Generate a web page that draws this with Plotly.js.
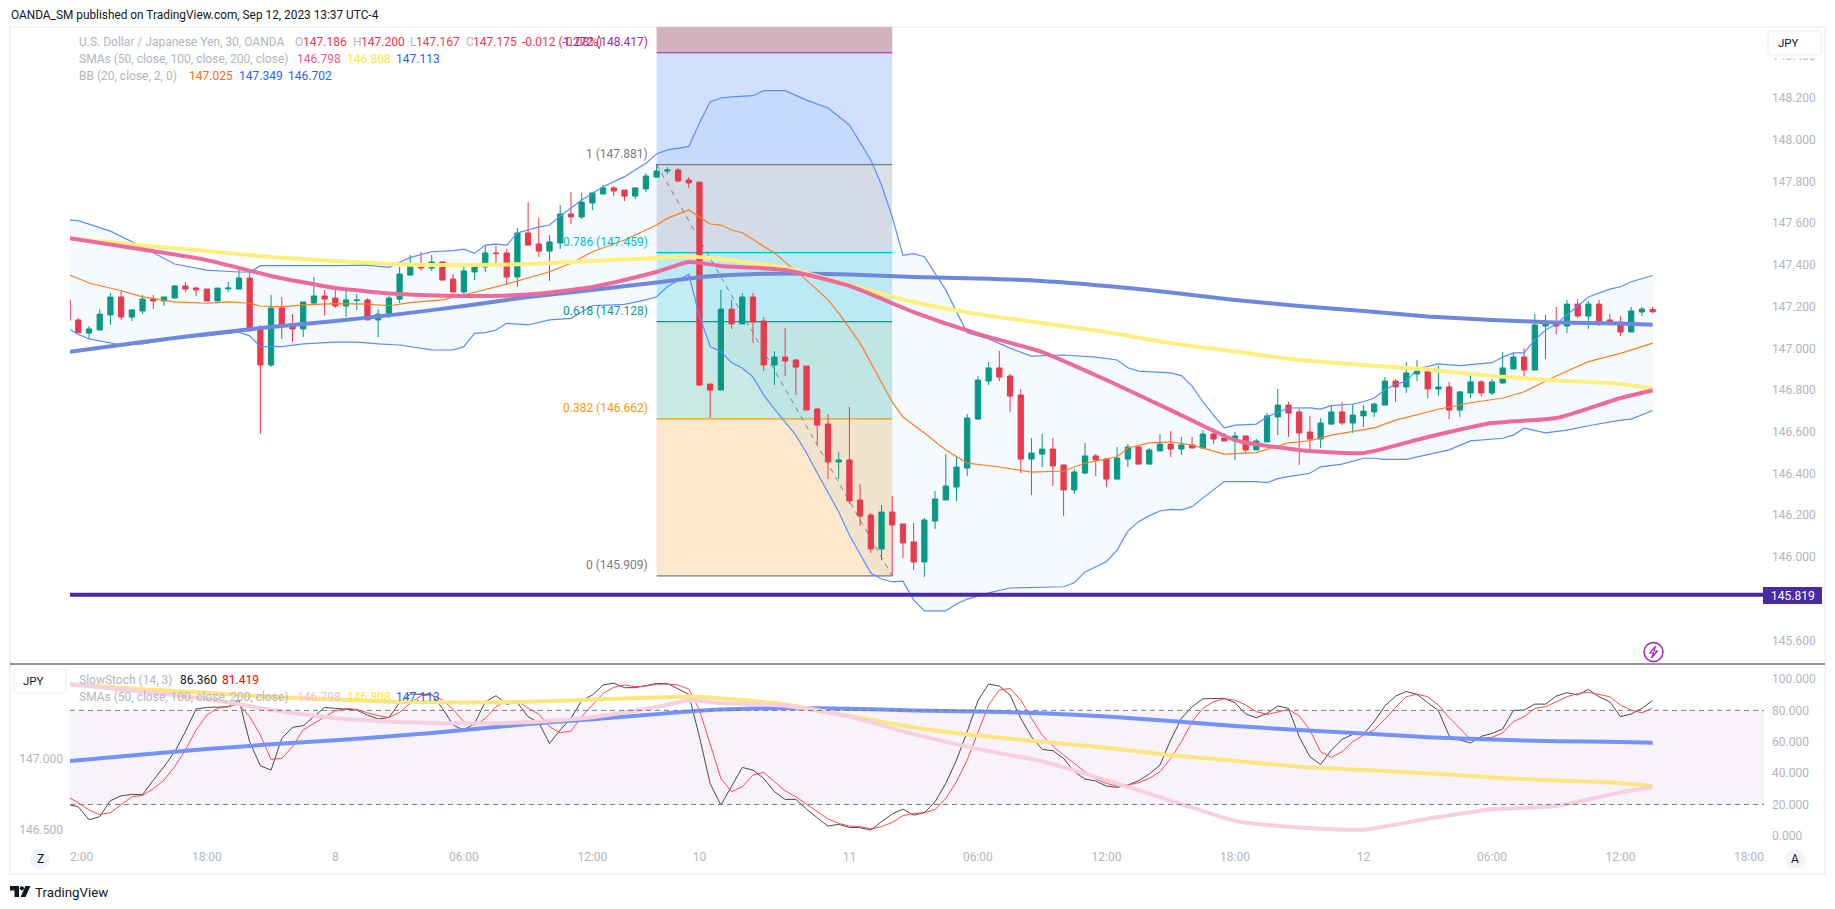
<!DOCTYPE html>
<html><head><meta charset="utf-8">
<script src="https://cdn.plot.ly/plotly-3.0.1.min.js"></script>
<style>html,body{margin:0;padding:0;background:#fff;overflow:hidden}#c{width:1835px;height:909px}</style>
</head><body><div id="c"></div>
<script>
// ---------- Bars: index 0 = 7 Sep 12:00, 30-minute bars (first bar is index -1) ----------
const opens = [147.232,147.136,147.073,147.088,147.160,147.246,147.150,147.179,147.236,147.227,
147.241,147.299,147.289,147.284,147.227,147.285,147.284,147.337,147.097,146.920,
147.193,147.117,147.093,147.217,147.251,147.241,147.203,147.229,147.232,147.136,
147.160,147.236,147.351,147.399,147.385,147.414,147.332,147.270,147.366,147.390,
147.457,147.457,147.342,147.553,147.500,147.466,147.505,147.644,147.630,147.697,
147.740,147.769,147.759,147.730,147.764,147.821,147.850,147.855,147.807,147.797,
146.829,146.800,147.188,147.117,147.246,147.131,146.920,146.958,146.944,146.915,
146.709,146.637,146.455,146.465,146.273,146.201,146.038,146.215,146.158,146.072,
145.976,146.172,146.273,146.335,146.426,146.661,146.843,146.906,146.867,146.776,
146.469,146.493,146.517,146.441,146.321,146.402,146.484,146.469,146.373,146.469,
146.527,146.445,146.508,146.541,146.517,146.537,146.522,146.589,146.570,146.556,
146.580,146.513,146.551,146.671,146.728,146.695,146.599,146.565,146.637,146.695,
146.642,146.676,146.695,146.728,146.843,146.815,146.877,146.891,146.805,146.815,
146.704,146.786,146.839,146.786,146.834,146.901,146.958,146.896,147.107,147.121,
147.107,147.212,147.155,147.212,147.136,147.126,147.078,147.174,147.186];
const highs = [147.240,147.144,147.107,147.188,147.265,147.276,147.188,147.256,147.256,147.246,
147.303,147.318,147.294,147.284,147.289,147.318,147.385,147.371,147.112,147.256,
147.246,147.164,147.222,147.342,147.280,147.294,147.275,147.260,147.241,147.188,
147.251,147.390,147.447,147.462,147.447,147.414,147.356,147.390,147.399,147.495,
147.490,147.476,147.577,147.701,147.625,147.543,147.687,147.749,147.745,147.749,
147.783,147.778,147.759,147.769,147.841,147.884,147.869,147.864,147.821,147.797,
146.829,147.280,147.232,147.265,147.265,147.150,146.987,147.097,146.949,146.915,
146.714,146.685,146.503,146.719,146.349,146.210,146.249,146.292,146.158,146.163,
146.187,146.316,146.493,146.479,146.685,146.867,146.934,146.987,146.877,146.805,
146.570,146.589,146.570,146.441,146.421,146.546,146.493,146.474,146.527,146.541,
146.537,146.522,146.589,146.604,146.575,146.575,146.608,146.618,146.594,146.599,
146.580,146.565,146.690,146.805,146.743,146.709,146.676,146.666,146.723,146.743,
146.733,146.728,146.738,146.863,146.853,146.934,146.944,146.891,146.915,146.839,
146.795,146.872,146.848,146.853,146.982,146.978,147.001,147.165,147.160,147.198,
147.232,147.236,147.227,147.232,147.165,147.155,147.198,147.198,147.200];
const lows = [147.133,147.075,147.045,147.088,147.112,147.136,147.131,147.164,147.188,147.203,
147.241,147.270,147.251,147.227,147.227,147.270,147.284,147.078,146.589,146.910,
147.045,147.030,147.054,147.208,147.155,147.193,147.150,147.184,147.136,147.054,
147.145,147.217,147.351,147.371,147.371,147.327,147.270,147.246,147.327,147.366,
147.409,147.304,147.294,147.495,147.438,147.323,147.476,147.596,147.620,147.663,
147.740,147.730,147.706,147.716,147.749,147.817,147.836,147.797,147.769,146.819,
146.666,146.800,147.093,147.117,147.025,146.891,146.824,146.867,146.776,146.704,
146.541,146.373,146.373,146.254,146.148,146.019,145.985,145.908,145.995,145.937,
145.904,146.134,146.273,146.268,146.388,146.656,146.824,146.843,146.695,146.402,
146.297,146.431,146.340,146.196,146.302,146.397,146.388,146.335,146.373,146.431,
146.445,146.445,146.508,146.479,146.489,146.522,146.522,146.541,146.556,146.465,
146.498,146.513,146.551,146.584,146.575,146.441,146.517,146.522,146.632,146.632,
146.594,146.623,146.671,146.728,146.743,146.786,146.843,146.762,146.771,146.661,
146.671,146.762,146.771,146.776,146.829,146.901,146.862,146.896,146.949,147.069,
147.073,147.145,147.093,147.107,147.112,147.059,147.078,147.155,147.167];
const closes = [147.133,147.075,147.093,147.164,147.246,147.150,147.184,147.236,147.227,147.246,
147.299,147.284,147.280,147.227,147.289,147.289,147.337,147.093,146.920,147.193,
147.112,147.093,147.222,147.251,147.236,147.203,147.232,147.232,147.136,147.164,
147.241,147.356,147.399,147.385,147.414,147.327,147.270,147.371,147.395,147.457,
147.454,147.342,147.553,147.495,147.466,147.510,147.644,147.630,147.701,147.745,
147.769,147.754,147.730,147.769,147.826,147.850,147.855,147.802,147.793,146.824,
146.800,147.188,147.117,147.246,147.126,146.920,146.958,146.939,146.910,146.704,
146.632,146.455,146.465,146.268,146.196,146.038,146.215,146.153,146.067,145.976,
146.177,146.278,146.340,146.431,146.666,146.848,146.906,146.862,146.771,146.469,
146.498,146.517,146.436,146.321,146.407,146.484,146.465,146.373,146.474,146.527,
146.445,146.513,146.541,146.517,146.537,146.522,146.589,146.565,146.556,146.580,
146.513,146.556,146.676,146.728,146.690,146.594,146.565,146.642,146.695,146.642,
146.680,146.699,146.733,146.843,146.815,146.882,146.891,146.805,146.815,146.704,
146.791,146.839,146.786,146.839,146.906,146.958,146.896,147.112,147.120,147.107,
147.212,147.155,147.212,147.131,147.121,147.078,147.179,147.188,147.175];

// ---------- Moving averages, read at these bar indices ----------
const smaBars = [-1,6,12,18,24,30,36,42,48,54,57,60,66,72,78,84,90,96,102,108,114,120,126,132,138,144,147];
const sma50  = [147.529,147.474,147.423,147.347,147.289,147.260,147.251,147.258,147.294,147.366,147.414,147.395,147.375,147.299,147.174,147.069,146.982,146.848,146.704,146.560,146.513,146.498,146.575,146.642,146.666,146.762,146.798];
const sma100 = [147.529,147.493,147.467,147.438,147.419,147.402,147.399,147.404,147.419,147.433,147.440,147.428,147.385,147.304,147.222,147.164,147.121,147.078,147.025,146.985,146.944,146.920,146.898,146.867,146.846,146.829,146.808];
const sma200 = [146.982,147.030,147.069,147.102,147.131,147.164,147.203,147.246,147.280,147.316,147.335,147.349,147.359,147.354,147.342,147.335,147.323,147.299,147.268,147.232,147.203,147.179,147.153,147.136,147.124,147.119,147.113];

// ---------- Bollinger bands ----------
const bbUpperBars = [-1,0,3,6,9,12,15,16,17,18,21,24,27,29,31,33,35,36,37,38,39,40,41,42,43,44,45,47,49,51,53,54,55,57,58,59,60,61,63,64,66,68,70,72,74,75,76,77,78,79,80,81,82,83,85,87,89,92,95,97,98,99,102,103,104,105,106,107,108,110,111,113,115,116,117,119,120,121,122,123,124,125,127,129,132,133,134,135,136,137,138,139,141,143,144,145,147];
const bbUpper = [147.615,147.612,147.562,147.486,147.404,147.375,147.366,147.366,147.396,147.396,147.393,147.396,147.399,147.388,147.436,147.463,147.468,147.475,147.455,147.495,147.500,147.495,147.553,147.567,147.582,147.591,147.634,147.711,147.775,147.823,147.887,147.932,147.951,147.967,148.080,148.182,148.200,148.205,148.211,148.235,148.235,148.190,148.152,148.071,147.903,147.783,147.630,147.446,147.454,147.439,147.360,147.280,147.176,147.075,147.045,147.001,146.963,146.968,146.958,146.944,146.907,146.891,146.882,146.869,146.819,146.744,146.680,146.619,146.632,146.637,146.672,146.714,146.715,146.709,146.725,146.733,146.744,146.762,146.800,146.829,146.840,146.901,146.925,146.917,146.931,146.958,146.978,146.978,147.040,147.088,147.117,147.160,147.246,147.284,147.295,147.319,147.349];
const bbLowerBars = [-1,0,1,4,6,9,12,15,16,17,19,21,24,26,28,30,33,35,36,37,38,39,40,42,44,45,46,48,51,53,54,55,56,57,58,59,60,61,62,63,64,65,67,68,69,70,71,72,73,74,75,76,77,78,79,81,82,83,85,87,92,93,94,96,97,98,99,100,101,102,103,104,105,106,107,108,110,111,112,113,115,116,118,120,121,122,124,128,130,133,134,135,137,139,141,144,145,147];
const bbLower = [147.096,147.067,147.045,147.016,147.021,147.048,147.059,147.077,147.060,147.008,147.008,147.021,147.030,147.030,147.021,147.016,146.993,146.992,147.008,147.072,147.075,147.088,147.120,147.112,147.136,147.141,147.144,147.204,147.211,147.232,147.247,147.295,147.327,147.355,147.155,147.009,146.984,146.931,146.906,146.862,146.776,146.709,146.584,146.498,146.402,146.306,146.215,146.105,146.014,145.923,145.894,145.880,145.884,145.793,145.741,145.741,145.774,145.798,145.828,145.851,145.857,145.876,145.928,145.977,146.033,146.124,146.169,146.198,146.220,146.228,146.226,146.241,146.282,146.321,146.361,146.361,146.361,146.356,146.375,146.385,146.401,146.432,146.445,146.473,146.473,146.468,146.468,146.513,146.556,146.569,146.584,146.617,146.595,146.608,146.629,146.656,146.661,146.702];
const bbBasisBars = [-1,1,4,6,9,12,14,16,17,19,21,24,27,29,31,34,37,40,44,46,48,51,54,55,57,58,59,60,61,62,65,68,70,71,73,76,77,79,81,83,86,89,92,94,96,97,98,100,102,104,107,110,113,115,117,121,123,127,130,133,135,138,141,144,147];
const bbBasis = [147.356,147.313,147.276,147.247,147.223,147.216,147.223,147.216,147.203,147.199,147.208,147.214,147.212,147.204,147.219,147.232,147.269,147.308,147.367,147.408,147.463,147.519,147.591,147.623,147.663,147.628,147.596,147.591,147.567,147.554,147.457,147.327,147.232,147.169,147.025,146.743,146.671,146.594,146.513,146.450,146.431,146.407,146.412,146.450,146.469,146.480,146.522,146.547,146.552,146.536,146.493,146.500,146.547,146.557,146.584,146.619,146.656,146.708,146.739,146.762,146.792,146.867,146.936,146.976,147.025];

// ---------- Slow stochastic (one value per bar) ----------
const stochK = [20.0,18.5,10.2,12.2,22.4,25.5,26.4,26.2,35.5,44.1,
53.6,66.4,80.9,81.9,82.1,82.3,86.6,60.0,44.7,41.9,
62.1,69.2,70.2,76.0,81.9,81.3,80.6,80.2,77.0,74.5,
75.5,84.9,90.4,90.4,90.2,81.3,70.6,67.5,71.7,85.5,
89.4,84.0,84.9,76.0,72.1,58.9,67.5,74.9,86.2,89.8,
96.2,97.4,94.5,94.5,95.7,97.2,97.2,93.6,90.2,63.2,
33.4,19.6,31.7,43.6,41.9,36.6,28.1,23.2,23.2,17.0,
11.5,6.2,7.3,5.3,5.1,3.6,9.0,13.9,17.0,13.2,
14.7,21.7,33.4,48.3,66.4,86.2,96.8,95.5,89.8,74.9,
63.2,55.1,54.3,49.4,40.9,36.2,34.9,31.7,30.9,32.4,
35.1,39.4,45.1,61.1,74.9,82.3,87.4,87.7,87.7,84.9,
77.7,75.3,78.1,82.8,81.3,63.2,50.4,45.5,54.7,61.5,
64.7,64.7,72.8,82.8,89.1,92.1,90.2,84.9,79.8,63.8,
61.1,59.2,63.4,65.3,68.1,80.0,80.2,84.0,84.0,89.1,
91.3,89.8,93.4,88.7,85.5,76.0,77.7,81.3,86.36];
const stochD = [24.9,21.1,16.4,13.6,14.7,20.0,24.9,25.8,30.0,35.5,
44.1,54.7,67.5,77.0,81.3,82.3,84.0,76.0,64.3,48.7,
49.4,56.8,67.5,71.7,76.0,79.8,81.3,80.6,78.5,76.6,
75.5,78.7,84.5,89.4,89.8,86.6,80.6,72.8,70.4,74.9,
82.3,86.2,86.2,81.3,77.7,69.6,65.7,66.8,76.0,83.4,
90.8,94.7,96.2,95.1,95.5,96.6,96.8,96.2,93.6,80.2,
58.9,36.6,28.1,31.3,38.7,40.4,34.5,28.7,24.9,20.2,
15.3,10.7,7.9,6.2,5.8,4.5,5.8,8.5,12.8,14.3,
14.7,16.8,23.8,34.5,48.3,65.3,83.4,93.0,94.0,86.6,
74.9,64.3,57.2,51.5,46.2,40.9,36.2,33.4,31.7,32.4,
33.8,36.6,40.9,49.4,60.0,72.8,81.3,85.5,87.4,86.6,
83.4,79.2,77.4,79.2,80.6,76.6,67.5,53.6,50.0,53.6,
60.0,64.3,67.5,74.3,81.9,88.7,90.4,88.7,83.4,75.5,
68.5,61.5,62.1,62.8,65.7,72.8,76.0,81.3,82.3,85.5,
88.7,90.8,91.5,90.2,88.7,83.4,80.2,78.5,81.419];

// ---------- Fibonacci retracement ----------
const fibRatios = ['0','0.382','0.618','0.786','1','1.272'];
const fibPrices = [145.909,146.662,147.128,147.459,147.881,148.417];
const fibLineColors = ['#787b86','#ff9800','#089981','#00bcd4','#787b86','#9c27b0'];
const fibZoneColors = ['#fde8cb','#c9e9e5','#c3eef5','#dcdfe6','#cfdffc','#d2b3bd'];
const fibStartBar = 54, fibEndBar = 76;
const supportLevel = 145.819;

// ---------- Axis ticks ----------
const priceTicks = [145.6,146.0,146.2,146.4,146.6,146.8,147.0,147.2,147.4,147.6,147.8,148.0,148.2,148.4];
const stochTicks = [0,20,40,60,80,100];
const lowerPriceTicks = [146.5,147.0];
const timeTickBars = [0,12,24,36,48,58,72,84,96,108,120,132,144,156];
const timeTickText = ['12:00','18:00','8','06:00','12:00','10','11','06:00','12:00','18:00','12','06:00','12:00','18:00'];

const W=1835,H=909, PL=70, PR=1764, MT=27, MB=664, LB=848;
const FONT='Roboto, "Noto Sans", sans-serif';
const px=x=>x/W, py=y=>1-y/H;
const barIndex=opens.map((_,i)=>i-1);
const pathPx=(cmds)=>cmds.map(c=>typeof c==='string'?c:(px(c[0])+' '+py(c[1]))).join(' ');
function rr(x0,y0,x1,y1,r){return pathPx(['M',[x0+r,y0],'L',[x1-r,y0],'Q',[x1,y0],[x1,y0+r],'L',[x1,y1-r],'Q',[x1,y1],[x1-r,y1],'L',[x0+r,y1],'Q',[x0,y1],[x0,y1-r],'L',[x0,y0+r],'Q',[x0,y0],[x0+r,y0],'Z']);}

const mainLine=(x,y,color,w,yax,extra)=>Object.assign({type:'scatter',mode:'lines',x,y,xaxis:'x',yaxis:yax,hoverinfo:'skip',showlegend:false,line:{color,width:w}},extra||{});
const smooth=(x,y,color,w,yax)=>{const t=mainLine(x,y,color,w,yax);t.line.shape='spline';t.line.smoothing=0.55;return t;};

const traces=[
 mainLine(bbUpperBars,bbUpper,'#5b8cff',1.2,'y'),
 mainLine(bbLowerBars,bbLower,'#5b8cff',1.2,'y',{fill:'tonexty',fillcolor:'rgba(33,150,243,0.05)'}),
 mainLine(bbBasisBars,bbBasis,'#ff7d1f',1.2,'y'),
 smooth(smaBars,sma200,'#6f88de',4,'y'),
 smooth(smaBars,sma100,'#fff07e',4,'y'),
 smooth(smaBars,sma50,'#ee6a9b',4,'y'),
 {type:'candlestick',x:barIndex,open:opens,high:highs,low:lows,close:closes,xaxis:'x',yaxis:'y',hoverinfo:'skip',showlegend:false,
  whiskerwidth:0,
  increasing:{line:{color:'#089981',width:1},fillcolor:'#089981'},
  decreasing:{line:{color:'#f23645',width:1},fillcolor:'#f23645'}},
 smooth(smaBars,sma200,'#7393fb',4,'y3'),
 smooth(smaBars,sma100,'#fde67f',4,'y3'),
 smooth(smaBars,sma50,'#f7cfdf',4,'y3'),
 mainLine(barIndex,stochK,'#4a4a4a',1,'y2'),
 mainLine(barIndex,stochD,'#ff4a4a',1,'y2')
];

const shapes=[];
// Frame
shapes.push({type:'rect',xref:'paper',yref:'paper',x0:px(10),x1:px(1825),y0:py(27),y1:py(874),line:{color:'#f0f3fa',width:2},layer:'below'});
// Fibonacci zones
const fibTop=[fibPrices[1],fibPrices[2],fibPrices[3],fibPrices[4],fibPrices[5],148.5404];
fibPrices.forEach((p,i)=>{
 shapes.push({type:'rect',xref:'x',yref:'y',x0:fibStartBar,x1:fibEndBar,y0:p,y1:fibTop[i],fillcolor:fibZoneColors[i],line:{width:0},layer:'below'});
});
fibPrices.forEach((p,i)=>{
 shapes.push({type:'line',xref:'x',yref:'y',x0:fibStartBar,x1:fibEndBar,y0:p,y1:p,line:{color:fibLineColors[i],width:1.2},layer:'below'});
});
// Fibonacci trend line
shapes.push({type:'line',xref:'x',yref:'y',x0:fibStartBar,x1:fibEndBar,y0:fibPrices[4],y1:fibPrices[0],line:{color:'#787b86',width:1,dash:'5px,5px'},layer:'above'});
// Support line
shapes.push({type:'line',xref:'paper',yref:'y',x0:px(PL),x1:px(PR),y0:supportLevel,y1:supportLevel,line:{color:'#4b2ba3',width:4},layer:'above'});
// Support price tag
shapes.push({type:'rect',xref:'paper',yref:'paper',x0:px(1763),x1:px(1822),y0:py(604),y1:py(587),fillcolor:'#4b2ba3',line:{width:0},layer:'above'});
// Stochastic band
shapes.push({type:'rect',xref:'paper',yref:'y2',x0:px(PL),x1:px(PR),y0:20,y1:80,fillcolor:'#f8f2fa',line:{width:0},layer:'below'});
[20,80].forEach(v=>shapes.push({type:'line',xref:'paper',yref:'y2',x0:px(PL),x1:px(PR),y0:v,y1:v,line:{color:'#787b86',width:1,dash:'5px,4px'},layer:'above'}));
// Separator
shapes.push({type:'line',xref:'paper',yref:'paper',x0:px(10),x1:px(1825),y0:py(664),y1:py(664),line:{color:'#2a2e39',width:1},layer:'above'});
// Cover that clips the first time label at the pane's left edge
shapes.push({type:'rect',xref:'paper',yref:'paper',x0:px(50),x1:px(PL),y0:py(849),y1:py(872),fillcolor:'#ffffff',line:{width:0},layer:'above'});
// Margin under the scale button, which clips the top price label
shapes.push({type:'rect',xref:'paper',yref:'paper',x0:px(1766),x1:px(1823),y0:py(58.3),y1:py(48),fillcolor:'#ffffff',line:{width:0},layer:'above'});
// Buttons
shapes.push({type:'path',xref:'paper',yref:'paper',path:rr(1768,31,1821,55,4),fillcolor:'#ffffff',line:{color:'#f0f3fa',width:1.5},layer:'above'});
shapes.push({type:'path',xref:'paper',yref:'paper',path:rr(14,669,66,693,4),fillcolor:'#ffffff',line:{color:'#f0f3fa',width:1.5},layer:'above'});
[[40,859],[1795,859]].forEach(c=>shapes.push({type:'circle',xref:'paper',yref:'paper',x0:px(c[0]-10),x1:px(c[0]+10),y0:py(c[1]+10),y1:py(c[1]-10),fillcolor:'#f0f3fa',line:{width:0},layer:'above'}));
// Lightning marker
shapes.push({type:'circle',xref:'paper',yref:'paper',x0:px(1644),x1:px(1663),y0:py(661.5),y1:py(642.5),fillcolor:'#ffffff',line:{color:'#9c27b0',width:1.5},layer:'above'});
shapes.push({type:'path',xref:'paper',yref:'paper',path:pathPx(['M',[1655.5,646],'L',[1650,653],'L',[1653.5,653],'L',[1651.5,658],'L',[1657.5,651],'L',[1654,651],'Z']),fillcolor:'#ffffff',line:{color:'#9c27b0',width:1.2},layer:'above'});
// TradingView mark
shapes.push({type:'path',xref:'paper',yref:'paper',path:pathPx(['M',[10,886],'L',[19,886],'L',[19,897],'L',[14.5,897],'L',[14.5,890.5],'L',[10,890.5],'Z']),fillcolor:'#131722',line:{width:0},layer:'above'});
shapes.push({type:'circle',xref:'paper',yref:'paper',x0:px(19.8),x1:px(24),y0:py(890.4),y1:py(886.2),fillcolor:'#131722',line:{width:0},layer:'above'});
shapes.push({type:'path',xref:'paper',yref:'paper',path:pathPx(['M',[25.5,886],'L',[30.5,886],'L',[25.5,897],'L',[20.5,897],'Z']),fillcolor:'#131722',line:{width:0},layer:'above'});

const GR='#b2b5be';
const note=(text,x,y,color,size,anchor,extra)=>Object.assign({text,xref:'paper',yref:'paper',x:px(x),y:py(y),xanchor:anchor||'left',yanchor:'middle',showarrow:false,borderpad:0,font:{family:FONT,size:size||12,color}},extra||{});
const annotations=[
 note('OANDA_SM published on TradingView.com, Sep 12, 2023 13:37 UTC-4',10,15,'#131722',11.85),
 // Row 1
 note('U.S. Dollar / Japanese Yen, 30, OANDA',77.5,42,GR,12),
 note('O',294,42,GR),note('147.186',302,42,'#f23645'),
 note('H',352,42,GR),note('147.200',360,42,'#f23645'),
 note('L',409,42,GR),note('147.167',415,42,'#f23645'),
 note('C',465,42,GR),note('147.175',472,42,'#f23645'),
 note('-0.012 (-0.08%)',521,42,'#f23645'),
 note('1.272 (148.417)',648.5,42,'#9c27b0',12,'right'),
 // Row 2
 note('SMAs (50, close, 100, close, 200, close)',77.5,59,GR),
 note('146.798',296,59,'#f0588f'),note('146.808',346,59,'#ffe83b'),note('147.113',395,59,'#2962ff'),
 // Row 3
 note('BB (20, close, 2, 0)',77.5,76,GR),
 note('147.025',188,76,'#ff6d00'),note('147.349',238,76,'#2962ff'),note('146.702',287,76,'#2962ff'),
 // Lower pane legend
 note('SlowStoch (14, 3)',78,680,GR),note('86.360',178.5,680,'#131722'),note('81.419',221,680,'#ff0000'),
 note('SMAs (50, close, 100, close, 200, close)',78,697,GR),
 note('146.798',296,697,'#f8bcd3'),note('146.808',346,697,'#ffe83b'),note('147.113',395,697,'#2962ff'),
 // Buttons
 note('JPY',1777,43,'#131722',11.5),note('JPY',22,681,'#131722',11.5),
 note('Z',40,859,'#131722',12,'center'),note('A',1795,859,'#131722',12,'center'),
 note('TradingView',33.5,892,'#131722',13.3),
 // Support label
 note(supportLevel.toFixed(3),1792.5,595.5,'#ffffff',12,'center')
];
// Fibonacci labels
fibPrices.forEach((p,i)=>{
 if(i===5) return;
 annotations.push({text:fibRatios[i]+' ('+p.toFixed(3)+')',xref:'paper',yref:'y',x:px(648.5),y:p,yshift:11,xanchor:'right',yanchor:'middle',showarrow:false,borderpad:0,font:{family:FONT,size:12,color:fibLineColors[i]}});
});

const yrange=[145.4867,148.5404];
const stochRange=[-7.8,109.6];
const lowerPriceRange=[146.368,147.671];
const tickFont={family:FONT,size:12,color:GR};
const layout={
 width:W,height:H,margin:{l:0,r:0,t:0,b:0,pad:0},paper_bgcolor:'#ffffff',plot_bgcolor:'rgba(0,0,0,0)',showlegend:false,
 font:{family:FONT},hovermode:false,dragmode:false,boxgap:0.3,
 xaxis:{domain:[px(PL),px(PR)],range:[-0.775,157.4],anchor:'y2',type:'linear',showgrid:false,zeroline:false,showline:false,ticks:'',
   tickmode:'array',tickvals:timeTickBars,ticktext:timeTickText,tickfont:tickFont,rangeslider:{visible:false},fixedrange:true},
 yaxis:{domain:[py(MB),py(MT)],range:yrange,anchor:'x',side:'right',position:px(PR),showgrid:false,zeroline:false,showline:false,ticks:'',
   tickmode:'array',tickvals:priceTicks,tickformat:'.3f',tickfont:tickFont,ticklabelstandoff:7,fixedrange:true},
 yaxis2:{domain:[py(LB),py(MB)],range:stochRange,anchor:'x',side:'right',showgrid:false,zeroline:false,showline:false,ticks:'',
   tickmode:'array',tickvals:stochTicks,tickformat:'.3f',tickfont:tickFont,ticklabelstandoff:7,fixedrange:true},
 yaxis3:{domain:[py(LB),py(MB)],range:lowerPriceRange,overlaying:'y2',anchor:'x',side:'left',showgrid:false,zeroline:false,showline:false,ticks:'',
   tickmode:'array',tickvals:lowerPriceTicks,tickformat:'.3f',tickfont:tickFont,ticklabelstandoff:6,fixedrange:true},
 shapes,annotations
};
Plotly.newPlot('c',traces,layout,{displayModeBar:false,staticPlot:true,responsive:false});
</script></body></html>
